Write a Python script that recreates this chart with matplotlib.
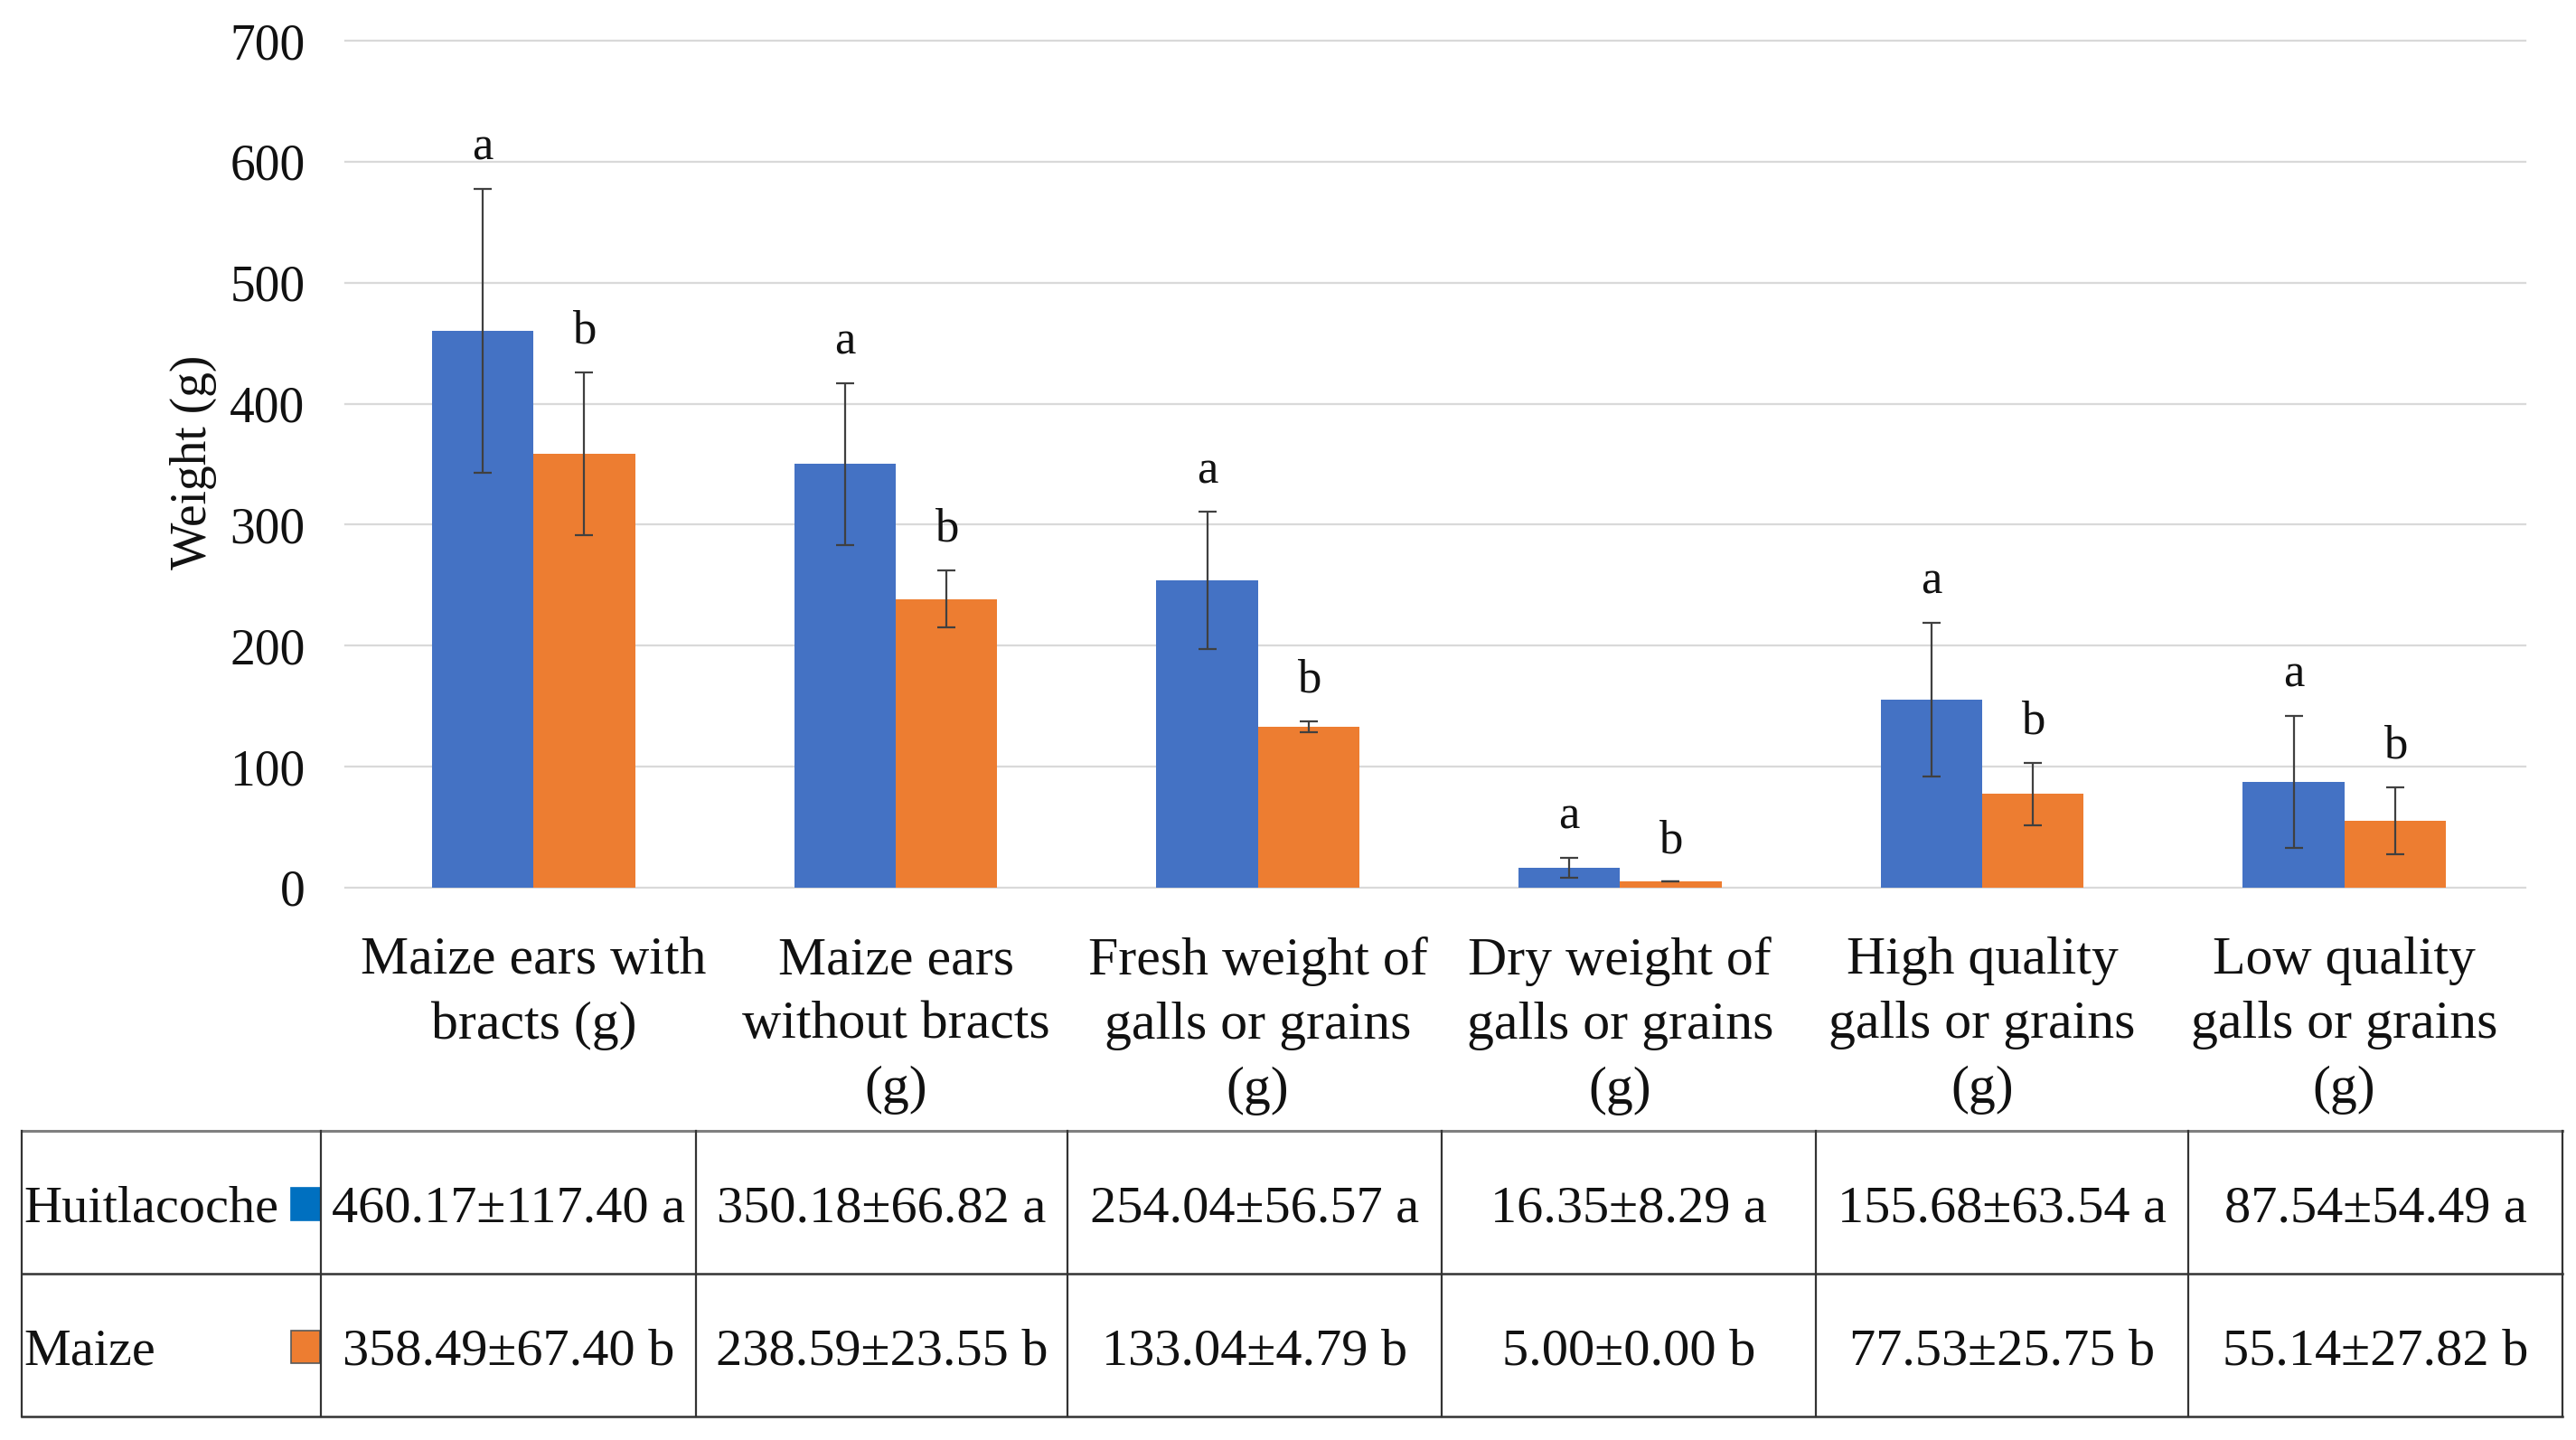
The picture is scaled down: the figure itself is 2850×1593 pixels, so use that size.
import matplotlib
matplotlib.use("Agg")
import matplotlib.pyplot as plt
import numpy as np
from matplotlib.lines import Line2D
from matplotlib.patches import Rectangle

plt.rcParams['font.family'] = ['Liberation Serif', 'DejaVu Serif']

# ---------------- data ----------------
categories = [
    "Maize ears with\nbracts (g)",
    "Maize ears\nwithout bracts\n(g)",
    "Fresh weight of\ngalls or grains\n(g)",
    "Dry weight of\ngalls or grains\n(g)",
    "High quality\ngalls or grains\n(g)",
    "Low quality\ngalls or grains\n(g)",
]
series_names = ["Huitlacoche", "Maize"]
huit_mean = [460.17, 350.18, 254.04, 16.35, 155.68, 87.54]
huit_sd = [117.40, 66.82, 56.57, 8.29, 63.54, 54.49]
huit_letters = ["a", "a", "a", "a", "a", "a"]
maize_mean = [358.49, 238.59, 133.04, 5.00, 77.53, 55.14]
maize_sd = [67.40, 23.55, 4.79, 0.00, 25.75, 27.82]
maize_letters = ["b", "b", "b", "b", "b", "b"]
yticks = [0, 100, 200, 300, 400, 500, 600, 700]
ylabel = "Weight (g)"

bar_colors = ["#4472C4", "#ED7D31"]
key_colors = ["#0070C0", "#ED7D31"]

# ---------------- figure ----------------
W, H = 2850, 1593
fig = plt.figure(figsize=(W / 100, H / 100), dpi=100)

ax_l, ax_r, ax_t, ax_b = 382, 2794, 45, 982
ax = fig.add_axes([ax_l / W, 1 - ax_b / H, (ax_r - ax_l) / W, (ax_b - ax_t) / H])

x = np.arange(len(categories))
bw = 0.28
means = [huit_mean, maize_mean]
sds = [huit_sd, maize_sd]
letters = [huit_letters, maize_letters]
offsets = [-bw / 2, bw / 2]

for i in range(2):
    xs = x + offsets[i]
    ax.bar(xs, means[i], width=bw, color=bar_colors[i], zorder=2, label=series_names[i])
    ax.errorbar(xs, means[i], yerr=sds[i], fmt='none', ecolor='#404040',
                elinewidth=1.6, capsize=7, capthick=1.6, zorder=3)
    for xi, m, s, lt in zip(xs, means[i], sds[i], letters[i]):
        ax.text(xi, m + s + 24, lt, ha='center', va='baseline', fontsize=38, color='#111111')

ax.set_xlim(-0.52, len(categories) - 0.5)
ax.set_ylim(0, 700)
ax.set_yticks(yticks)
ax.set_yticklabels([str(t) for t in yticks], fontsize=40)
ax.set_xticks(x)
ax.set_xticklabels(categories, fontsize=43, linespacing=1.42, va='top')
ax.tick_params(axis='y', length=0, pad=32, colors='#111111')
ax.tick_params(axis='x', length=0, pad=39, colors='#111111')
ax.yaxis.grid(True, color='#D9D9D9', lw=1.6)
ax.set_axisbelow(True)
for gl in ax.get_ygridlines():
    gl.set_clip_on(False)
for sp in ax.spines.values():
    sp.set_visible(False)

fig.text(214 / W, 1 - 511 / H, ylabel, rotation=90, ha='center', va='center', fontsize=40,
         color='#111111')

# ---------------- data table ----------------
col_edges = [24, 355, 770, 1181, 1595, 2009, 2421, 2835]
row_edges = [1251, 1409, 1567]


def fx(px):
    return px / W


def fy(py):
    return 1 - py / H


# horizontal lines
fig.add_artist(Line2D([fx(col_edges[0]), fx(col_edges[-1])], [fy(row_edges[0])] * 2,
                      color='#7F7F7F', lw=2.2, transform=fig.transFigure))
for ry in row_edges[1:]:
    fig.add_artist(Line2D([fx(col_edges[0]), fx(col_edges[-1])], [fy(ry)] * 2,
                          color='#333333', lw=1.8, transform=fig.transFigure))
# vertical lines
for cx in col_edges:
    fig.add_artist(Line2D([fx(cx)] * 2, [fy(row_edges[0]), fy(row_edges[-1])],
                          color='#333333', lw=1.6, transform=fig.transFigure))

for r in range(2):
    yc = (row_edges[r] + row_edges[r + 1]) / 2
    yt = yc + 7
    fig.text(fx(col_edges[0] + 2), fy(yt), series_names[r], ha='left', va='center',
             fontsize=42, color='#111111')
    fig.add_artist(Rectangle((fx(322), fy(yc + 20)), fx(354) - fx(322), fy(yc - 16) - fy(yc + 20),
                             facecolor=key_colors[r], edgecolor='#595959' if r == 1 else key_colors[r],
                             lw=1.2, transform=fig.transFigure))
    for c in range(len(categories)):
        xc = (col_edges[c + 1] + col_edges[c + 2]) / 2
        s = f"{means[r][c]:.2f}\u00b1{sds[r][c]:.2f} {letters[r][c]}"
        fig.text(fx(xc), fy(yt), s, ha='center', va='center', fontsize=42, color='#111111')

fig.savefig("out.png", dpi=100, facecolor='white')
